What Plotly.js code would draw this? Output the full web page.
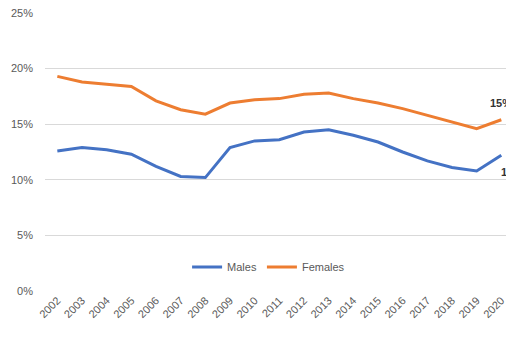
<!DOCTYPE html>
<html>
<head>
<meta charset="utf-8">
<script src="https://cdn.plot.ly/plotly-3.0.1.min.js"></script>
<style>
  html, body { margin: 0; padding: 0; background: #fff; overflow: hidden; }
  #chart { width: 506px; height: 338px; }
</style>
</head>
<body>
<div id="chart"></div>
<script>
// Share of population by sex, 2002-2020 (%)
const years = ["2002","2003","2004","2005","2006","2007","2008","2009","2010","2011",
               "2012","2013","2014","2015","2016","2017","2018","2019","2020"];
const males   = [12.6, 12.9, 12.7, 12.3, 11.2, 10.3, 10.2, 12.9, 13.5, 13.6,
                 14.3, 14.5, 14.0, 13.4, 12.5, 11.7, 11.1, 10.8, 12.2];
const females = [19.3, 18.8, 18.6, 18.4, 17.1, 16.3, 15.9, 16.9, 17.2, 17.3,
                 17.7, 17.8, 17.3, 16.9, 16.4, 15.8, 15.2, 14.6, 15.4];
const yTicks = [0, 5, 10, 15, 20, 25];

const blue = "#4472C4";
const orange = "#ED7D31";
const textGrey = "#595959";
const labelColor = "#333333";
const font = "Liberation Sans, Arial, sans-serif";

// index of the final year; category axes place annotations by position index
const last = years.length - 1;
const fmt = v => Math.round(v) + "%";

const traces = [
  { x: years, y: males, name: "Males", type: "scatter", mode: "lines",
    line: { color: blue, width: 3 }, hoverinfo: "skip" },
  { x: years, y: females, name: "Females", type: "scatter", mode: "lines",
    line: { color: orange, width: 3 }, hoverinfo: "skip" }
];

const layout = {
  width: 506, height: 338,
  margin: { l: 45, r: 0, t: 13, b: 47 },
  paper_bgcolor: "#fff", plot_bgcolor: "#fff",
  font: { family: font, size: 11, color: textGrey },
  showlegend: true,
  legend: {
    orientation: "h", x: 0.485, xanchor: "center", y: 0.086, yanchor: "middle",
    font: { family: font, size: 11, color: textGrey },
    itemwidth: 30, tracegroupgap: 0, bgcolor: "rgba(0,0,0,0)"
  },
  xaxis: {
    type: "category", range: [-0.5, 18.19],
    tickangle: -45, showgrid: false, zeroline: false,
    showline: false, ticks: "", tickfont: { family: font, size: 11, color: textGrey },
    fixedrange: true
  },
  yaxis: {
    range: [0, 25], tickvals: yTicks, ticktext: yTicks.map(v => v + "%"),
    showgrid: true, gridcolor: "#D9D9D9", gridwidth: 1,
    zeroline: false, showline: false, ticks: "",
    tickfont: { family: font, size: 11, color: textGrey },
    ticklabelstandoff: 11, fixedrange: true
  },
  annotations: [
    { x: last, y: females[last], xref: "x", yref: "y",
      text: "<b>" + fmt(females[last]) + "</b>", showarrow: false,
      xanchor: "center", yanchor: "middle", yshift: 17,
      font: { family: font, size: 11, color: labelColor } },
    { x: last, y: males[last], xref: "x", yref: "y",
      text: "<b>" + fmt(males[last]) + "</b>", showarrow: false,
      xanchor: "left", yanchor: "middle", xshift: -2, yshift: -17,
      font: { family: font, size: 11, color: labelColor } }
  ]
};

Plotly.newPlot("chart", traces, layout, { displayModeBar: false, staticPlot: true });
</script>
</body>
</html>
